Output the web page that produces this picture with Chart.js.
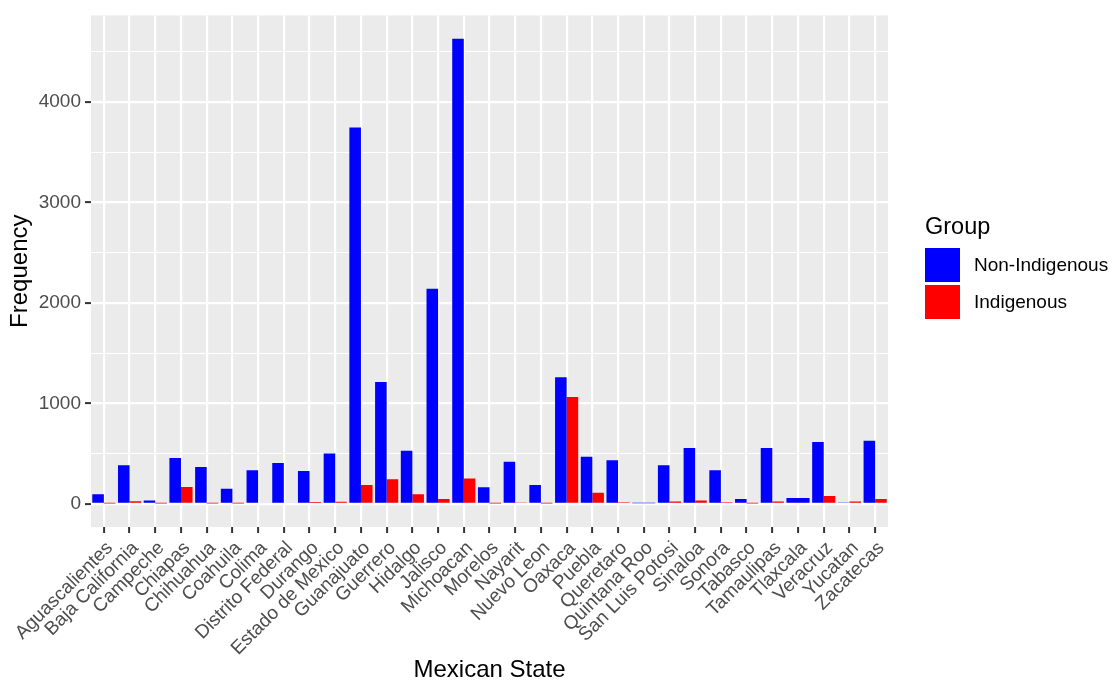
<!DOCTYPE html>
<html lang="en">
<head>
    <meta charset="UTF-8">
    <title>Frequency by Mexican State</title>
    <script src="https://cdn.jsdelivr.net/npm/chart.js"></script>
    <style>
        body {
            margin: 0;
            background-color: white;
            font-family: "Liberation Sans", Arial, sans-serif;
        }
        .wrap {
            position: relative;
            width: 1113px;
            height: 685px;
        }
        .legend-title {
            position: absolute;
            left: 925px;
            top: 213px;
            font-size: 23.5px;
            color: #000;
        }
        .legend-key {
            position: absolute;
            left: 925px;
            width: 35px;
            height: 34px;
        }
        .legend-label {
            position: absolute;
            left: 974px;
            font-size: 19px;
            color: #000;
        }
    </style>
</head>
<body>
    <div class="wrap">
        <canvas id="stateChart" width="1113" height="685"></canvas>
        <div class="legend-title">Group</div>
        <div class="legend-key" style="top:248px;background:#0000FF"></div>
        <div class="legend-label" style="top:254px">Non-Indigenous</div>
        <div class="legend-key" style="top:285px;background:#FF0000"></div>
        <div class="legend-label" style="top:291px">Indigenous</div>
    </div>

    <script>
        // Data
        const states = ['Aguascalientes', 'Baja California', 'Campeche', 'Chiapas', 'Chihuahua',
            'Coahuila', 'Colima', 'Distrito Federal', 'Durango', 'Estado de Mexico', 'Guanajuato',
            'Guerrero', 'Hidalgo', 'Jalisco', 'Michoacan', 'Morelos', 'Nayarit', 'Nuevo Leon',
            'Oaxaca', 'Puebla', 'Queretaro', 'Quintana Roo', 'San Luis Potosi', 'Sinaloa',
            'Sonora', 'Tabasco', 'Tamaulipas', 'Tlaxcala', 'Veracruz', 'Yucatan', 'Zacatecas'];

        const nonIndigenous = [95, 382, 33, 455, 366, 150, 333, 405, 327, 500, 3745,
            1212, 527, 2140, 4630, 165, 417, 187, 1260, 468, 432, 4, 383, 556,
            333, 46, 556, 56, 615, 13, 628];

        // null = group absent for that state (bar takes the full width)
        const indigenous = [3, 25, 3, 167, 3, 2, 10, 10, 18, 20, 187,
            245, 94, 48, 252, 3, 13, 3, 1063, 110, 16, null, 23, 33,
            16, 3, 23, null, 78, 23, 46];

        const seriesNames = ['Non-Indigenous', 'Indigenous'];
        const seriesColors = ['#0000FF', '#FF0000'];

        // labelled (major) and unlabelled (minor) y grid values
        const yMajor = [0, 1000, 2000, 3000, 4000];
        const yMinor = [500, 1500, 2500, 3500, 4500];

        const yMax = Math.max(...nonIndigenous);
        const pad = yMax * 0.05;

        const FONT = '"Liberation Sans", Arial, sans-serif';
        const isMajor = c => c.tick && yMajor.includes(c.tick.value);

        // grey panel behind the grid
        const panelBg = {
            id: 'panelBg',
            beforeDraw(chart) {
                const a = chart.chartArea;
                const ctx = chart.ctx;
                ctx.save();
                ctx.fillStyle = '#EBEBEB';
                ctx.fillRect(a.left, a.top, a.right - a.left, a.bottom - a.top);
                ctx.restore();
            }
        };

        new Chart(document.getElementById('stateChart'), {
            type: 'bar',
            data: {
                labels: states,
                datasets: [{
                    label: seriesNames[0],
                    data: nonIndigenous,
                    backgroundColor: seriesColors[0]
                }, {
                    label: seriesNames[1],
                    data: indigenous,
                    backgroundColor: seriesColors[1]
                }]
            },
            options: {
                responsive: false,
                animation: false,
                skipNull: true,
                categoryPercentage: 0.9,
                barPercentage: 1.0,
                borderWidth: 0,
                layout: {
                    padding: { top: 5, right: 225, left: 0, bottom: 0 }
                },
                plugins: {
                    legend: { display: false },
                    tooltip: { enabled: false }
                },
                scales: {
                    x: {
                        offset: true,
                        grid: {
                            offset: false,
                            color: '#FFFFFF',
                            lineWidth: 2.2,
                            tickColor: '#333333',
                            tickLength: 6,
                            tickWidth: 2
                        },
                        border: { display: false },
                        ticks: {
                            autoSkip: false,
                            minRotation: 45,
                            maxRotation: 45,
                            padding: 4,
                            labelOffset: 6,
                            color: '#4D4D4D',
                            font: { family: FONT, size: 19 }
                        },
                        title: {
                            display: true,
                            text: 'Mexican State',
                            color: '#000',
                            padding: 0,
                            font: { family: FONT, size: 24 }
                        },
                        afterFit(scale) { scale.height = 158; }
                    },
                    y: {
                        min: -pad,
                        max: yMax + pad,
                        afterBuildTicks(scale) {
                            scale.ticks = yMajor.concat(yMinor)
                                .sort((a, b) => a - b)
                                .map(v => ({ value: v }));
                        },
                        grid: {
                            color: '#FFFFFF',
                            lineWidth: c => isMajor(c) ? 2.2 : 1.1,
                            tickColor: c => isMajor(c) ? '#333333' : 'rgba(0,0,0,0)',
                            tickLength: 6,
                            tickWidth: 2
                        },
                        border: { display: false },
                        ticks: {
                            padding: 4,
                            color: '#4D4D4D',
                            font: { family: FONT, size: 19 },
                            callback: v => (yMajor.includes(v) ? String(v) : '')
                        },
                        title: {
                            display: true,
                            text: 'Frequency',
                            color: '#000',
                            padding: { top: 6, bottom: 0 },
                            font: { family: FONT, size: 24 }
                        },
                        afterFit(scale) { scale.width = 91; }
                    }
                }
            },
            plugins: [panelBg]
        });
    </script>
</body>
</html>
